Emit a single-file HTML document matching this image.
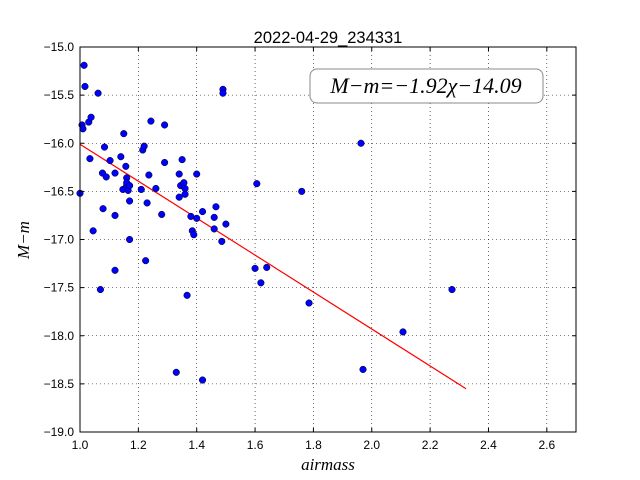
<!DOCTYPE html>
<html><head><meta charset="utf-8"><style>
body{margin:0;background:#fff}
svg{display:block}
text{font-family:"Liberation Sans",sans-serif}
text.serif{font-family:"Liberation Serif",serif;font-style:italic}
</style></head><body>
<svg id="chart" width="640" height="480" xmlns="http://www.w3.org/2000/svg">
<rect x="0" y="0" width="640" height="480" fill="#fff"/>
<g id="grid"></g>
<g id="line"></g>
<g id="points"></g>
<rect x="80" y="47" width="496" height="385" fill="none" stroke="#000" stroke-width="1"/>
<g id="ticks"></g>
<text x="328" y="43" font-size="16.5" text-anchor="middle">2022-04-29_234331</text>
<text class="serif" x="328" y="470" font-size="17" text-anchor="middle" style="font-family:'Liberation Serif',serif;font-style:italic">airmass</text>
<text class="serif" transform="translate(29,240) rotate(-90)" font-size="17" text-anchor="middle" style="font-family:'Liberation Serif',serif;font-style:italic">M−m</text>
<g>
<rect x="310" y="69" width="233" height="34" rx="7" fill="#fff" stroke="#888" stroke-width="1"/>
<text class="serif" x="426" y="93" font-size="22" text-anchor="middle" style="font-family:'Liberation Serif',serif;font-style:italic">M−m=−1.92χ−14.09</text>
</g>
</svg>
<script>
const xVals=[1.0,1.007,1.01,1.014,1.017,1.03,1.038,1.034,1.045,1.062,1.07,1.077,1.084,1.079,1.09,1.103,1.12,1.12,1.12,1.14,1.15,1.147,1.157,1.16,1.16,1.16,1.165,1.17,1.17,1.17,1.21,1.215,1.22,1.225,1.23,1.236,1.243,1.26,1.28,1.29,1.29,1.33,1.34,1.34,1.345,1.35,1.356,1.36,1.36,1.367,1.38,1.385,1.39,1.40,1.40,1.42,1.42,1.46,1.46,1.466,1.486,1.49,1.49,1.50,1.60,1.606,1.62,1.64,1.76,1.785,1.963,1.97,2.107,2.275];
const yVals=[-16.52,-15.81,-15.85,-15.19,-15.41,-15.78,-15.73,-16.16,-16.91,-15.48,-17.52,-16.31,-16.04,-16.68,-16.35,-16.18,-16.31,-16.75,-17.32,-16.14,-15.90,-16.48,-16.24,-16.44,-16.36,-16.41,-16.49,-16.60,-16.44,-17.0,-16.48,-16.07,-16.03,-17.22,-16.62,-16.33,-15.77,-16.47,-16.74,-15.81,-16.20,-18.38,-16.56,-16.32,-16.44,-16.17,-16.41,-16.47,-16.53,-17.58,-16.76,-16.91,-16.95,-16.32,-16.78,-18.46,-16.71,-16.89,-16.77,-16.66,-17.02,-15.44,-15.48,-16.84,-17.30,-16.42,-17.45,-17.29,-16.50,-17.66,-16.00,-18.35,-17.96,-17.52];
const xTicks=[1.0,1.2,1.4,1.6,1.8,2.0,2.2,2.4,2.6];
const yTicks=[-15.0,-15.5,-16.0,-16.5,-17.0,-17.5,-18.0,-18.5,-19.0];
const fitSlope=-1.92, fitIntercept=-14.09, fitXRange=[1.0,2.323];
const X0=80,X1=576,Y0=47,Y1=432,xmin=1.0,xmax=2.7,ymax=-15,ymin=-19;
const sx=v=>X0+(v-xmin)/(xmax-xmin)*(X1-X0);
const sy=v=>Y0+(ymax-v)/(ymax-ymin)*(Y1-Y0);
const NS="http://www.w3.org/2000/svg";
function mk(t,a,p){const e=document.createElementNS(NS,t);for(const k in a)e.setAttribute(k,a[k]);p.appendChild(e);return e;}
const grid=document.getElementById('grid'),ticks=document.getElementById('ticks');
xTicks.forEach(t=>{const x=sx(t);
 const g=mk('line',{x1:x,x2:x,y1:Y0,y2:Y1,stroke:'#000','stroke-dasharray':'1,3','stroke-width':0.6},grid);
 
 mk('line',{x1:x,x2:x,y1:Y1,y2:Y1-4,stroke:'#000'},ticks);mk('line',{x1:x,x2:x,y1:Y0,y2:Y0+4,stroke:'#000'},ticks);
 const l=mk('text',{x:x,y:Y1+17,'font-size':12,'text-anchor':'middle'},ticks);l.textContent=t.toFixed(1);
 });
yTicks.forEach(t=>{const y=sy(t);
 const g=mk('line',{x1:X0,x2:X1,y1:y,y2:y,stroke:'#000','stroke-dasharray':'1,3','stroke-width':0.6},grid);
 
 mk('line',{x1:X0,x2:X0+4,y1:y,y2:y,stroke:'#000'},ticks);mk('line',{x1:X1,x2:X1-4,y1:y,y2:y,stroke:'#000'},ticks);
 const l=mk('text',{x:X0-6,y:y+4,'font-size':12,'text-anchor':'end'},ticks);l.textContent=t.toFixed(1).replace('-','−');
 });
const ln=mk('line',{x1:sx(fitXRange[0]),y1:sy(fitSlope*fitXRange[0]+fitIntercept),x2:sx(fitXRange[1]),y2:sy(fitSlope*fitXRange[1]+fitIntercept),stroke:'#f00','stroke-width':1.2},document.getElementById('line'));


const pts=document.getElementById('points');
xVals.forEach((x,i)=>{const c=mk('circle',{cx:sx(x),cy:sy(yVals[i]),r:3.3,fill:'#0000ff',stroke:'#000','stroke-width':0.5},pts);
 
 });
</script>
</body></html>
